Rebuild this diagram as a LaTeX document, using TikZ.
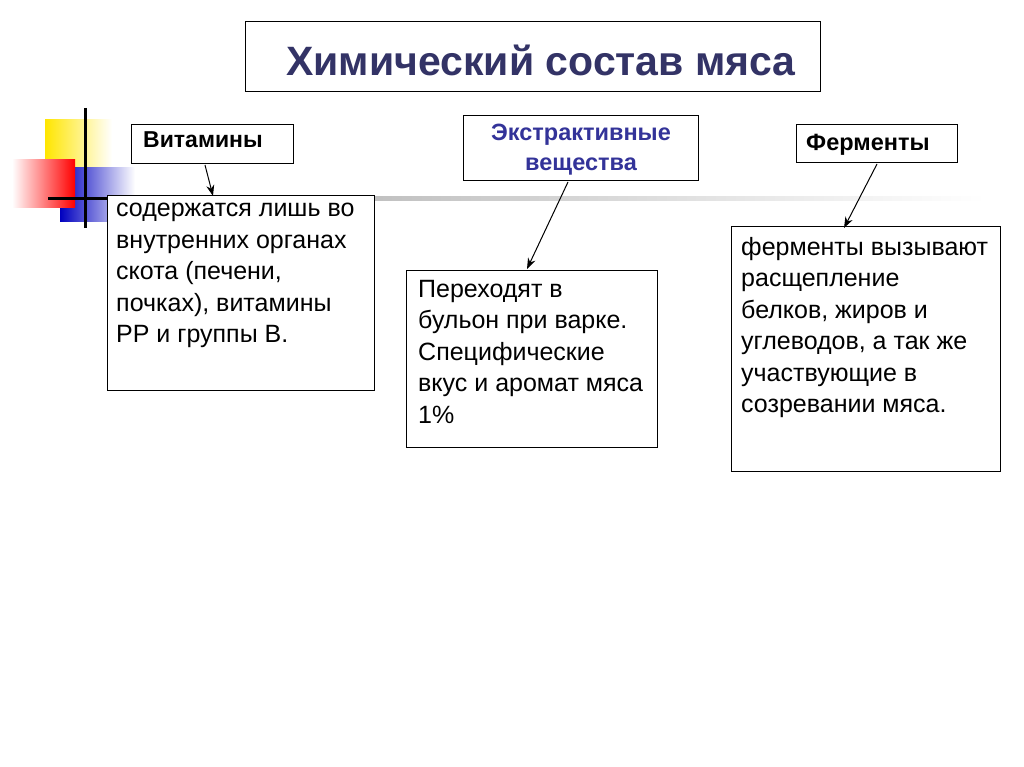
\documentclass[tikz,border=0pt]{standalone}
\usepackage{fontspec}
\setmainfont{Liberation Sans}
\usetikzlibrary{arrows.meta}
\definecolor{ttl}{HTML}{333366}
\definecolor{ext}{HTML}{333399}
\tikzset{box/.style={draw=black,line width=1pt,fill=white},
 body/.style={align=left,anchor=north west,font=\fontsize{25}{31.5}\selectfont,inner sep=0pt},
 arr/.style={-{Stealth[length=11pt,width=8pt]},line width=1pt}}
\begin{document}
\begin{tikzpicture}[x=1pt,y=-1pt]
\useasboundingbox (0,0) rectangle (1024,767);
% decoration
\shade[left color=yellow!80!orange,right color=white] (45,120) rectangle (112,172);
\shade[left color=blue!75!black,right color=white] (60,168) rectangle (135,222);
\shade[left color=white,right color=red] (12,160) rectangle (75,208);
\shade[left color=gray!70,right color=white] (110,197) rectangle (985,201);
\draw[line width=3pt] (85,108) -- (85,228);
\draw[line width=3pt] (48,199) -- (110,199);
% title
\node[box,minimum width=575,minimum height=70] (t) at (532.5,57) {};
\node[font=\fontsize{41}{44}\selectfont\bfseries,text=ttl] at (541,60) {Химический состав мяса};
% headers
\draw[box] (131,125) rectangle (293,164);
\node[font=\fontsize{23}{26}\selectfont\bfseries,anchor=west,inner sep=0pt] (v) at (143,140) {Витамины};
\coordinate (va) at (205,165);
\draw[box] (463,116) rectangle (698,181);
\node[font=\fontsize{23.5}{30}\selectfont\bfseries,text=ext,align=center] (e) at (581,150) {Экстрактивные\\вещества};
\coordinate (ea) at (568,182);
\draw[box] (796,125) rectangle (957,163);
\node[font=\fontsize{23.5}{26}\selectfont\bfseries,anchor=west,inner sep=0pt] (f) at (806,145) {Ферменты};
\coordinate (fa) at (877,164);
% bodies
\draw[box] (107,196) rectangle (374,390);
\coordinate (b1) at (213,196);
\node[body] at (116,203) {содержатся лишь во\\внутренних органах\\скота (печени,\\почках), витамины\\РР и группы В.};
\draw[box] (406,270) rectangle (657,447);
\coordinate (b2) at (527,269);
\node[body] at (418,280) {Переходят в\\бульон при варке.\\Специфические\\вкус и аромат мяса\\1\%};
\draw[box] (731,227) rectangle (1000,471);
\coordinate (b3) at (844,228);
\node[body] at (741,237) {ферменты вызывают\\расщепление\\белков, жиров и\\углеводов, а так же\\участвующие в\\созревании мяса.};
\draw[arr] (va) -- (b1);
\draw[arr] (ea) -- (b2);
\draw[arr] (fa) -- (b3);
\end{tikzpicture}
\end{document}
